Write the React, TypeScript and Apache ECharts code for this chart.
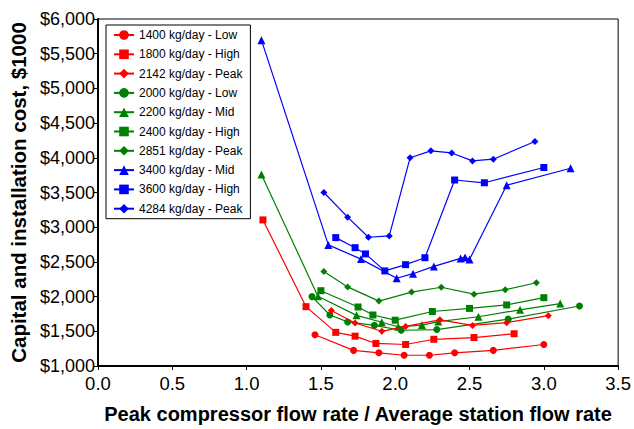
import React, { useEffect, useRef } from "react";
import * as echarts from "echarts";

const seriesNames = [
  "1400 kg/day - Low",
  "1800 kg/day - High",
  "2142 kg/day - Peak",
  "2000 kg/day - Low",
  "2200 kg/day - Mid",
  "2400 kg/day - High",
  "2851 kg/day - Peak",
  "3400 kg/day - Mid",
  "3600 kg/day - High",
  "4284 kg/day - Peak",
];

const x1400Low = [1.46, 1.72, 1.89, 2.06, 2.23, 2.4, 2.66, 3.0];
const y1400Low = [1450, 1225, 1190, 1155, 1155, 1190, 1225, 1310];
const x1800High = [1.11, 1.4, 1.6, 1.73, 1.87, 2.07, 2.26, 2.53, 2.8];
const y1800High = [3105, 1855, 1485, 1430, 1325, 1310, 1385, 1410, 1465];
const x2142Peak = [1.57, 1.73, 1.91, 2.07, 2.3, 2.52, 2.75, 3.03];
const y2142Peak = [1800, 1620, 1500, 1570, 1665, 1585, 1625, 1725];
const x2000Low = [1.44, 1.56, 1.68, 1.86, 2.04, 2.28, 2.76, 3.24];
const y2000Low = [2000, 1735, 1635, 1585, 1515, 1525, 1675, 1865];
const x2200Mid = [1.1, 1.48, 1.74, 1.91, 2.02, 2.18, 2.29, 2.56, 2.84, 3.11];
const y2200Mid = [3760, 2005, 1730, 1630, 1565, 1590, 1640, 1710, 1810, 1900];
const x2400High = [1.5, 1.75, 1.85, 2.0, 2.25, 2.5, 2.75, 3.0];
const y2400High = [2085, 1850, 1735, 1660, 1785, 1830, 1880, 1985];
const x2851Peak = [1.52, 1.68, 1.89, 2.11, 2.31, 2.53, 2.74, 2.95];
const y2851Peak = [2360, 2140, 1935, 2065, 2135, 2035, 2100, 2200];
const x3400Mid = [1.1, 1.55, 1.77, 2.01, 2.12, 2.26, 2.44, 2.47, 2.5, 2.75, 3.18];
const y3400Mid = [5695, 2745, 2540, 2265, 2330, 2435, 2550, 2565, 2535, 3605, 3850];
const x3600High = [1.6, 1.73, 1.8, 1.93, 2.07, 2.2, 2.4, 2.6, 3.0];
const y3600High = [2850, 2705, 2615, 2370, 2460, 2560, 3680, 3640, 3860];
const x4284Peak = [1.52, 1.68, 1.82, 1.96, 2.1, 2.24, 2.38, 2.52, 2.66, 2.94];
const y4284Peak = [3500, 3145, 2855, 2875, 4000, 4100, 4070, 3955, 3980, 4235];

const xs = [x1400Low, x1800High, x2142Peak, x2000Low, x2200Mid, x2400High, x2851Peak, x3400Mid, x3600High, x4284Peak];
const ys = [y1400Low, y1800High, y2142Peak, y2000Low, y2200Mid, y2400High, y2851Peak, y3400Mid, y3600High, y4284Peak];

const colors = ["#ff0000", "#ff0000", "#ff0000", "#008000", "#008000", "#008000", "#008000", "#0000ff", "#0000ff", "#0000ff"];
const symbols = ["circle", "rect", "diamond", "circle", "triangle", "rect", "diamond", "triangle", "rect", "diamond"];
const sizes = [7, 7, 7, 7, 8, 7, 7, 8, 7, 7];

const tickFont = '"Liberation Sans Narrow", "Arial Narrow", "Liberation Sans", Arial, sans-serif';
const mainFont = '"Liberation Sans", Arial, sans-serif';

export default function App() {
  const ref = useRef<HTMLDivElement>(null);
  useEffect(() => {
    document.body.style.margin = "0";
    const chart = echarts.init(ref.current!, null, { renderer: "svg" });
    const series = seriesNames.map((name, i) => ({
      name,
      type: "line",
      data: xs[i].map((x, j) => [x, ys[i][j]]),
      symbol: symbols[i],
      symbolSize: sizes[i],
      itemStyle: { color: colors[i] },
      lineStyle: { color: colors[i], width: 1.2 },
      z: 10 - i,
    }));
    chart.setOption({
      animation: false,
      backgroundColor: "#fff",
      grid: {
        left: 97,
        right: 14,
        top: 19,
        bottom: 57,
        show: true,
        borderColor: "#000",
        borderWidth: 1,
      },
      legend: {
        orient: "vertical",
        left: 106,
        top: 25,
        backgroundColor: "#fff",
        borderColor: "#000",
        borderWidth: 1,
        padding: [4, 8, 4, 7],
        itemWidth: 20,
        itemHeight: 12,
        itemGap: 7.3,
        textStyle: { fontFamily: mainFont, fontSize: 12, color: "#000" },
        data: seriesNames,
      },
      xAxis: {
        type: "value",
        min: 0,
        max: 3.5,
        interval: 0.5,
        name: "Peak compressor flow rate / Average station flow rate",
        nameLocation: "middle",
        nameGap: 38,
        nameTextStyle: { fontFamily: mainFont, fontSize: 20, fontWeight: "bold", color: "#000" },
        axisLine: { onZero: false, lineStyle: { color: "#000", width: 2 } },
        axisTick: { show: true, length: 4, lineStyle: { color: "#000" } },
        axisLabel: {
          fontFamily: tickFont,
          fontSize: 18.5,
          color: "#000",
          margin: 8,
          formatter: (v: number) => v.toFixed(1),
        },
        splitLine: { show: false },
      },
      yAxis: {
        type: "value",
        min: 1000,
        max: 6000,
        interval: 500,
        name: "Capital and installation cost, $1000",
        nameLocation: "middle",
        nameGap: 68,
        nameTextStyle: { fontFamily: mainFont, fontSize: 20.5, fontWeight: "bold", color: "#000" },
        axisLine: { onZero: false, lineStyle: { color: "#000", width: 2 } },
        axisTick: { show: true, length: 4, lineStyle: { color: "#000" } },
        axisLabel: {
          fontFamily: tickFont,
          fontSize: 18,
          color: "#000",
          margin: 3,
          formatter: (v: number) => "$" + v.toLocaleString("en-US"),
        },
        splitLine: { show: false },
      },
      series,
    });
    return () => chart.dispose();
  }, []);
  return <div ref={ref} style={{ width: 634, height: 429 }} />;
}
